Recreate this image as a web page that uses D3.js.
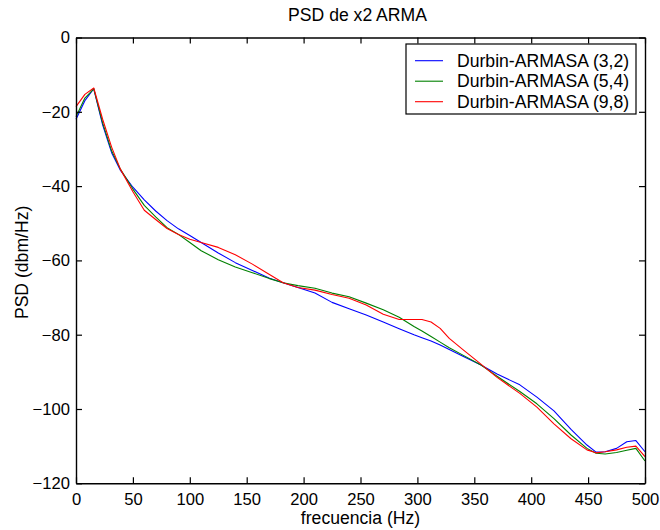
<!DOCTYPE html>
<html>
<head>
<meta charset="utf-8">
<script src="https://cdn.jsdelivr.net/npm/d3@7"></script>
<style>
  html, body { margin: 0; padding: 0; background: #fff; }
  svg text { font-family: "Liberation Sans", Arial, sans-serif; fill: #000; }
</style>
</head>
<body>
<svg id="chart" width="660" height="530"></svg>
<script>
// Frequency grid (Hz) shared by the three estimates
const freq = [0, 7.8, 15.6, 23.4, 31.3, 39.1, 50, 60, 70, 80, 90, 100, 110, 125, 140, 155, 170, 182, 195, 210, 225, 240, 255, 270, 284, 297, 304, 312, 320, 328, 340, 355, 370, 390, 405, 420, 435, 449, 457, 465, 475, 484, 492, 500];

// PSD estimates (dbm/Hz)
const psd32 = [-22, -17, -13.8, -23.5, -31, -35.8, -40.3, -43.7, -46.7, -49.3, -51.5, -53.3, -55.2, -58, -60.6, -62.7, -64.8, -66, -67.3, -68.8, -71.3, -73, -74.7, -76.6, -78.4, -80, -80.8, -81.7, -82.8, -84, -85.8, -88, -90.6, -93.5, -96.8, -100.5, -105.5, -109.7, -111.6, -111.5, -110.6, -108.8, -108.5, -111.5];
const psd54 = [-21.3, -16.3, -13.8, -23, -30.5, -35.5, -40.8, -45.2, -48.3, -51.2, -53, -55.2, -57.4, -59.8, -61.8, -63.3, -64.9, -66, -66.8, -67.5, -68.8, -69.8, -71.5, -73.3, -75.3, -77.8, -79, -80.5, -82, -83.5, -85.5, -88, -91.2, -95.3, -98.6, -102.6, -107, -110.6, -111.9, -112.1, -111.7, -111.1, -110.6, -114];
const psd98 = [-18.6, -15.3, -13.6, -22, -29.5, -35.5, -41.5, -46.5, -49, -51.4, -53, -54.3, -55.2, -56.5, -58.5, -61, -63.8, -66, -67.3, -68, -69.2, -70.2, -72, -74.5, -75.9, -75.9, -75.9, -76.6, -78.3, -81, -84, -87.7, -91.5, -95.8, -99.5, -104, -108, -111, -111.8, -111.5, -111, -110.3, -110, -112.8];

const seriesNames = ["Durbin-ARMASA (3,2)", "Durbin-ARMASA (5,4)", "Durbin-ARMASA (9,8)"];
const seriesColors = ["#0000ff", "#008000", "#ff0000"];
const seriesValues = [psd32, psd54, psd98];

const xTicks = [0, 50, 100, 150, 200, 250, 300, 350, 400, 450, 500];
const yTicks = [0, -20, -40, -60, -80, -100, -120];

const titleText = "PSD de x2 ARMA";
const xLabelText = "frecuencia (Hz)";
const yLabelText = "PSD (dbm/Hz)";

const svg = d3.select("#chart");
const L = 76, R = 645, T = 37.5, B = 483.3;
const x = d3.scaleLinear().domain([0, 500]).range([L, R]);
const y = d3.scaleLinear().domain([-120, 0]).range([B, T]);
const tickLen = 6;
const fontTick = 16.6, fontLab = 17.6;

// data lines
const line = d3.line().x((d, i) => x(freq[i])).y(d => y(d));
seriesValues.forEach((vals, k) => {
  svg.append("path")
    .datum(vals)
    .attr("d", line)
    .attr("fill", "none")
    .attr("stroke", seriesColors[k])
    .attr("stroke-width", 1.1)
    .attr("stroke-linejoin", "round");
});

// axes: bottom/left with labels, top/right ticks only, all ticks inward
const axBottom = d3.axisBottom(x).tickValues(xTicks).tickSizeInner(-tickLen).tickSizeOuter(0).tickPadding(12);
const axLeft = d3.axisLeft(y).tickValues(yTicks).tickSizeInner(-tickLen).tickSizeOuter(0).tickPadding(12);
const axTop = d3.axisTop(x).tickValues(xTicks).tickSizeInner(-tickLen).tickSizeOuter(0).tickFormat("");
const axRight = d3.axisRight(y).tickValues(yTicks).tickSizeInner(-tickLen).tickSizeOuter(0).tickFormat("");

function styleAxis(g) {
  g.selectAll("path.domain").attr("stroke", "#000").attr("stroke-width", 1.4);
  g.selectAll(".tick line").attr("stroke", "#000").attr("stroke-width", 1.2);
  g.selectAll(".tick text").attr("font-size", fontTick).attr("font-family", "Liberation Sans, Arial, sans-serif").attr("fill", "#000");
}

const gB = svg.append("g").attr("transform", `translate(0,${B})`).call(axBottom).call(styleAxis);
gB.selectAll(".tick text").attr("dy", "0.71em").attr("y", 10);
const gL = svg.append("g").attr("transform", `translate(${L},0)`).call(axLeft).call(styleAxis);
gL.selectAll(".tick text").attr("x", -6);
svg.append("g").attr("transform", `translate(0,${T})`).call(axTop).call(styleAxis);
svg.append("g").attr("transform", `translate(${R},0)`).call(axRight).call(styleAxis);

// title and axis labels
svg.append("text").attr("x", (L + R) / 2 - 3).attr("y", 21)
  .attr("text-anchor", "middle").attr("font-size", fontLab).text(titleText);
svg.append("text").attr("x", (L + R) / 2).attr("y", 524)
  .attr("text-anchor", "middle").attr("font-size", fontLab).text(xLabelText);
svg.append("text").attr("transform", `translate(28,${(T + B) / 2 + 2}) rotate(-90)`)
  .attr("text-anchor", "middle").attr("font-size", fontLab).text(yLabelText);

// legend
const lg = svg.append("g");
lg.append("rect").attr("x", 406).attr("y", 44).attr("width", 230).attr("height", 70)
  .attr("fill", "#fff").attr("stroke", "#000").attr("stroke-width", 1.2);
seriesNames.forEach((name, k) => {
  const yy = 60.7 + k * 20.5;
  lg.append("line").attr("x1", 415).attr("x2", 443).attr("y1", yy).attr("y2", yy)
    .attr("stroke", seriesColors[k]).attr("stroke-width", 1.1);
  lg.append("text").attr("x", 457).attr("y", yy + 6).attr("font-size", fontLab).text(name);
});
</script>
</body>
</html>
